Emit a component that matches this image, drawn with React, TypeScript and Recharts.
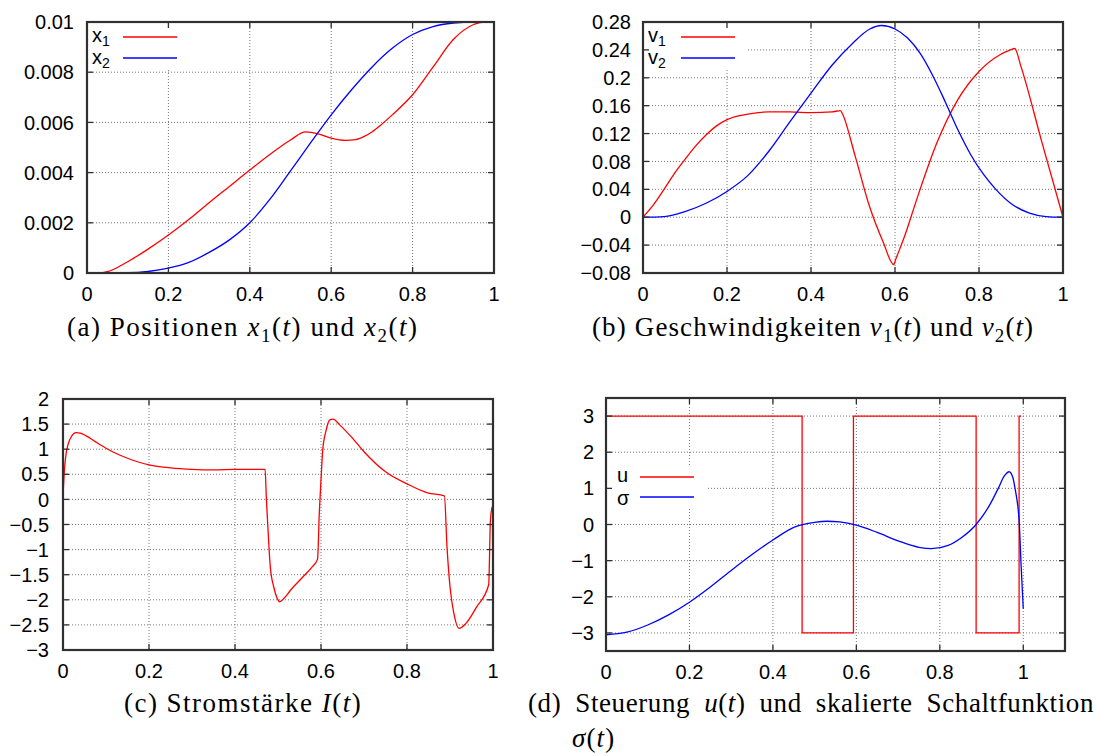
import React from "react";
import { CartesianGrid, Line, LineChart, XAxis, YAxis } from "recharts";

// (a) Positionen x1(t), x2(t)
const tX1 = [0, 0.03, 0.05, 0.1, 0.15, 0.2, 0.25, 0.3, 0.35, 0.4, 0.45, 0.5, 0.537, 0.57, 0.6, 0.636, 0.66, 0.68, 0.7, 0.72, 0.75, 0.8, 0.85, 0.9, 0.95, 0.98, 1];
const x1Vals = [0, 0, 0.00005, 0.00045, 0.00095, 0.00151, 0.00213, 0.0028, 0.00345, 0.0041, 0.00473, 0.0053, 0.00562, 0.00553, 0.00537, 0.00528, 0.00531, 0.00543, 0.00562, 0.00587, 0.0063, 0.0071, 0.0082, 0.0093, 0.0099, 0.01, 0.01];
const tX2 = [0, 0.1, 0.15, 0.2, 0.25, 0.3, 0.35, 0.4, 0.45, 0.5, 0.55, 0.6, 0.65, 0.7, 0.75, 0.8, 0.85, 0.9, 0.95, 1];
const x2Vals = [0, 0.00001, 0.00006, 0.00019, 0.00042, 0.00082, 0.00132, 0.002, 0.00295, 0.00407, 0.0052, 0.0063, 0.0073, 0.0082, 0.00895, 0.0095, 0.00982, 0.00996, 0.01, 0.01];

// (b) Geschwindigkeiten v1(t), v2(t)
const tV1 = [0, 0.02, 0.05, 0.075, 0.1, 0.125, 0.15, 0.175, 0.2, 0.25, 0.3, 0.35, 0.4, 0.45, 0.47, 0.475, 0.505, 0.539, 0.572, 0.597, 0.602, 0.623, 0.652, 0.7, 0.75, 0.8, 0.85, 0.875, 0.885, 0.9, 0.95, 1];
const v1Vals = [0, 0.014, 0.04, 0.063, 0.083, 0.102, 0.118, 0.131, 0.14, 0.148, 0.151, 0.151, 0.15, 0.151, 0.153, 0.148, 0.088, 0.016, -0.036, -0.068, -0.06, -0.027, 0.026, 0.107, 0.169, 0.209, 0.233, 0.24, 0.242, 0.216, 0.107, 0];
const tV2 = [0, 0.05, 0.1, 0.15, 0.2, 0.25, 0.3, 0.35, 0.4, 0.45, 0.5, 0.54, 0.568, 0.6, 0.63, 0.66, 0.69, 0.72, 0.75, 0.78, 0.81, 0.84, 0.88, 0.92, 0.96, 1];
const v2Vals = [0, 0.001, 0.008, 0.02, 0.037, 0.06, 0.095, 0.137, 0.178, 0.218, 0.25, 0.27, 0.275, 0.27, 0.257, 0.235, 0.203, 0.165, 0.125, 0.09, 0.062, 0.04, 0.018, 0.006, 0.001, 0];

// (c) Stromstärke I(t)
const tI = [0, 0.003, 0.007, 0.012, 0.02, 0.03, 0.04, 0.055, 0.075, 0.1, 0.125, 0.15, 0.175, 0.2, 0.25, 0.3, 0.35, 0.4, 0.47, 0.473, 0.478, 0.482, 0.49, 0.498, 0.504, 0.514, 0.53, 0.555, 0.58, 0.592, 0.596, 0.6, 0.604, 0.612, 0.62, 0.628, 0.644, 0.67, 0.7, 0.75, 0.8, 0.848, 0.887, 0.893, 0.9, 0.909, 0.921, 0.937, 0.962, 0.99, 0.994, 0.998];
const iVals = [0.05, 0.55, 0.9, 1.1, 1.26, 1.33, 1.32, 1.26, 1.15, 1.02, 0.91, 0.82, 0.745, 0.69, 0.63, 0.6, 0.59, 0.6, 0.6, 0.0, -0.8, -1.34, -1.74, -1.97, -2.04, -1.97, -1.8, -1.57, -1.34, -1.19, -0.28, 0.39, 0.98, 1.38, 1.58, 1.6, 1.48, 1.25, 0.95, 0.55, 0.31, 0.13, 0.07, -0.94, -1.74, -2.27, -2.57, -2.47, -2.14, -1.7, -0.41, -0.15];

// (d) Steuerung u(t), skalierte Schaltfunktion sigma(t)
const tU = [0, 0.47, 0.593, 0.887, 0.99, 0.995];
const uVals = [3, -3, 3, -3, 3, 3];
const tS = [0, 0.05, 0.1, 0.15, 0.2, 0.25, 0.3, 0.35, 0.4, 0.45, 0.5, 0.53, 0.56, 0.6, 0.65, 0.7, 0.75, 0.78, 0.82, 0.85, 0.887, 0.92, 0.94, 0.955, 0.966, 0.975, 0.981, 0.987, 0.99, 0.995, 1];
const sVals = [-3.05, -2.98, -2.78, -2.5, -2.15, -1.73, -1.27, -0.83, -0.43, -0.08, 0.06, 0.09, 0.07, -0.02, -0.22, -0.45, -0.63, -0.67, -0.58, -0.38, 0, 0.55, 1.0, 1.35, 1.46, 1.3, 0.95, 0.5, 0.12, -1.18, -2.33];

const xTicks = [0, 0.2, 0.4, 0.6, 0.8, 1];
const yTicksA = [0, 0.002, 0.004, 0.006, 0.008, 0.01];
const yTicksB = [-0.08, -0.04, 0, 0.04, 0.08, 0.12, 0.16, 0.2, 0.24, 0.28];
const yTicksC = [-3, -2.5, -2, -1.5, -1, -0.5, 0, 0.5, 1, 1.5, 2];
const yTicksD = [-3, -2, -1, 0, 1, 2, 3];

const RED = "#ff0000";
const BLUE = "#0000ff";
const INK = "#303030";
const SANS = "'Liberation Sans', Arial, sans-serif";
const SERIF = "'Liberation Serif', 'Times New Roman', serif";
const tickFont = { fontFamily: SANS, fontSize: 20, fill: "#000" };

const fmt = (v: number) => String(v).replace("-", "\u2212");
const pts = (ts: number[], vs: number[]) => ts.map((t, i) => ({ t, v: vs[i] }));

type Series = { data: { t: number; v: number }[]; color: string; curve: "monotone" | "linear" | "stepAfter" };

interface Frame {
  fx: number; fy: number; fw: number; fh: number; yw: number; gap: number;
  xDomain: [number, number]; yDomain: [number, number]; yTicks: number[];
}

const frameA: Frame = { fx: 87, fy: 22, fw: 407, fh: 251, yw: 87, gap: 13, xDomain: [0, 1], yDomain: [0, 0.01], yTicks: yTicksA };
const frameB: Frame = { fx: 643, fy: 22, fw: 420, fh: 251, yw: 100, gap: 12, xDomain: [0, 1], yDomain: [-0.08, 0.28], yTicks: yTicksB };
const frameC: Frame = { fx: 63, fy: 399, fw: 430, fh: 251, yw: 63, gap: 14, xDomain: [0, 1], yDomain: [-3, 2], yTicks: yTicksC };
const frameD: Frame = { fx: 606, fy: 398, fw: 459, fh: 253, yw: 80, gap: 12, xDomain: [0, 1.1], yDomain: [-3.5, 3.5], yTicks: yTicksD };

function Panel({ f, series }: { f: Frame; series: Series[] }) {
  const mt = 10, mr = 12, xh = 40;
  const w = f.yw + f.fw + mr, h = mt + f.fh + xh;
  return (
    <div style={{ position: "absolute", left: f.fx - f.yw, top: f.fy - mt, width: w, height: h }}>
      <LineChart width={w} height={h} margin={{ top: mt, right: mr, bottom: 0, left: 0 }}>
        <CartesianGrid stroke="#777" strokeDasharray="1 2" />
        <XAxis type="number" dataKey="t" domain={f.xDomain} ticks={xTicks} interval={0} allowDataOverflow
          tickFormatter={fmt} tick={tickFont} axisLine={false} tickLine={false} tickSize={0} tickMargin={14} height={xh} />
        <YAxis type="number" domain={f.yDomain} ticks={f.yTicks} interval={0} allowDataOverflow
          tickFormatter={fmt} tick={tickFont} axisLine={false} tickLine={false} tickSize={0} tickMargin={f.gap} width={f.yw} />
        {series.map((s, i) => (
          <Line key={i} data={s.data} dataKey="v" type={s.curve} stroke={s.color} strokeWidth={1.3}
            dot={false} isAnimationActive={false} />
        ))}
      </LineChart>
    </div>
  );
}

// gnuplot-style border with inward tick marks on all four sides
function Border({ f }: { f: Frame }) {
  const sx = (v: number) => f.fx + ((v - f.xDomain[0]) / (f.xDomain[1] - f.xDomain[0])) * f.fw;
  const sy = (v: number) => f.fy + f.fh - ((v - f.yDomain[0]) / (f.yDomain[1] - f.yDomain[0])) * f.fh;
  const right = f.fx + f.fw, bottom = f.fy + f.fh;
  return (
    <g>
      <g stroke={INK} strokeWidth={1.3}>
        {xTicks.map((t) => (
          <g key={"x" + t}>
            <line x1={sx(t)} x2={sx(t)} y1={bottom} y2={bottom - 6} />
            <line x1={sx(t)} x2={sx(t)} y1={f.fy} y2={f.fy + 6} />
          </g>
        ))}
        {f.yTicks.map((v) => (
          <g key={"y" + v}>
            <line x1={f.fx} x2={f.fx + 6} y1={sy(v)} y2={sy(v)} />
            <line x1={right} x2={right - 6} y1={sy(v)} y2={sy(v)} />
          </g>
        ))}
      </g>
      <rect x={f.fx} y={f.fy} width={f.fw} height={f.fh} fill="none" stroke={INK} strokeWidth={2.2} />
    </g>
  );
}

const sub = { fontSize: "0.7em", verticalAlign: "-0.3em" } as const;
const mathVar = (v: string, s?: string) => (
  <span><i>{v}</i>{s ? <span style={sub}>{s}</span> : null}(<i>t</i>)</span>
);
const capStyle = {
  position: "absolute" as const, fontFamily: SERIF, fontSize: 27, lineHeight: "27px",
  letterSpacing: 1.1, whiteSpace: "nowrap" as const,
};

export default function App() {
  return (
    <div style={{ position: "absolute", left: 0, top: 0, width: 1096, height: 756, background: "#fff" }}>
      <Panel f={frameA} series={[
        { data: pts(tX1, x1Vals), color: RED, curve: "monotone" },
        { data: pts(tX2, x2Vals), color: BLUE, curve: "monotone" },
      ]} />
      <Panel f={frameB} series={[
        { data: pts(tV1, v1Vals), color: RED, curve: "monotone" },
        { data: pts(tV2, v2Vals), color: BLUE, curve: "monotone" },
      ]} />
      <Panel f={frameC} series={[{ data: pts(tI, iVals), color: RED, curve: "monotone" }]} />
      <Panel f={frameD} series={[
        { data: pts(tU, uVals), color: RED, curve: "stepAfter" },
        { data: pts(tS, sVals), color: BLUE, curve: "monotone" },
      ]} />

      {/* borders and legends */}
      <svg width={1096} height={756} style={{ position: "absolute", left: 0, top: 0, pointerEvents: "none" }}>
        <rect x={89} y={24} width={91} height={44} fill="#fff" />
        <rect x={645} y={24} width={101} height={44} fill="#fff" />
        <rect x={608} y={467} width={98} height={41} fill="#fff" />
        <Border f={frameA} />
        <Border f={frameB} />
        <Border f={frameC} />
        <Border f={frameD} />
        <g fontFamily={SANS} fontSize={20}>
          <text x={92} y={42}>x<tspan fontSize={14} dy={4}>1</tspan></text>
          <line x1={123} x2={177} y1={37} y2={37} stroke={RED} strokeWidth={1.3} />
          <text x={92} y={64}>x<tspan fontSize={14} dy={4}>2</tspan></text>
          <line x1={123} x2={177} y1={58} y2={58} stroke={BLUE} strokeWidth={1.3} />

          <text x={648} y={42}>v<tspan fontSize={14} dy={4}>1</tspan></text>
          <line x1={681} x2={735} y1={37} y2={37} stroke={RED} strokeWidth={1.3} />
          <text x={648} y={64}>v<tspan fontSize={14} dy={4}>2</tspan></text>
          <line x1={681} x2={735} y1={58} y2={58} stroke={BLUE} strokeWidth={1.3} />

          <text x={617} y={482}>u</text>
          <line x1={640} x2={694} y1={477} y2={477} stroke={RED} strokeWidth={1.3} />
          <text x={617} y={505}>σ</text>
          <line x1={640} x2={694} y1={497} y2={497} stroke={BLUE} strokeWidth={1.3} />
        </g>
      </svg>

      {/* captions */}
      <div style={{ ...capStyle, left: 67, top: 314, letterSpacing: 1.55 }}>
        <span style={{ marginRight: 8 }}>(a)</span>Positionen {mathVar("x", "1")} und {mathVar("x", "2")}
      </div>
      <div style={{ ...capStyle, left: 592, top: 314 }}>
        <span style={{ marginRight: 8 }}>(b)</span>Geschwindigkeiten {mathVar("v", "1")} und {mathVar("v", "2")}
      </div>
      <div style={{ ...capStyle, left: 124, top: 690, letterSpacing: 1.5 }}>
        <span style={{ marginRight: 8 }}>(c)</span>Stromstärke {mathVar("I")}
      </div>
      <div style={{ ...capStyle, left: 528, top: 690, width: 566, letterSpacing: 0.6, textAlign: "justify", textAlignLast: "justify" }}>
        (d) Steuerung {mathVar("u")} und skalierte Schaltfunktion
      </div>
      <div style={{ ...capStyle, left: 572, top: 725 }}>
        {mathVar("σ")}
      </div>
    </div>
  );
}
